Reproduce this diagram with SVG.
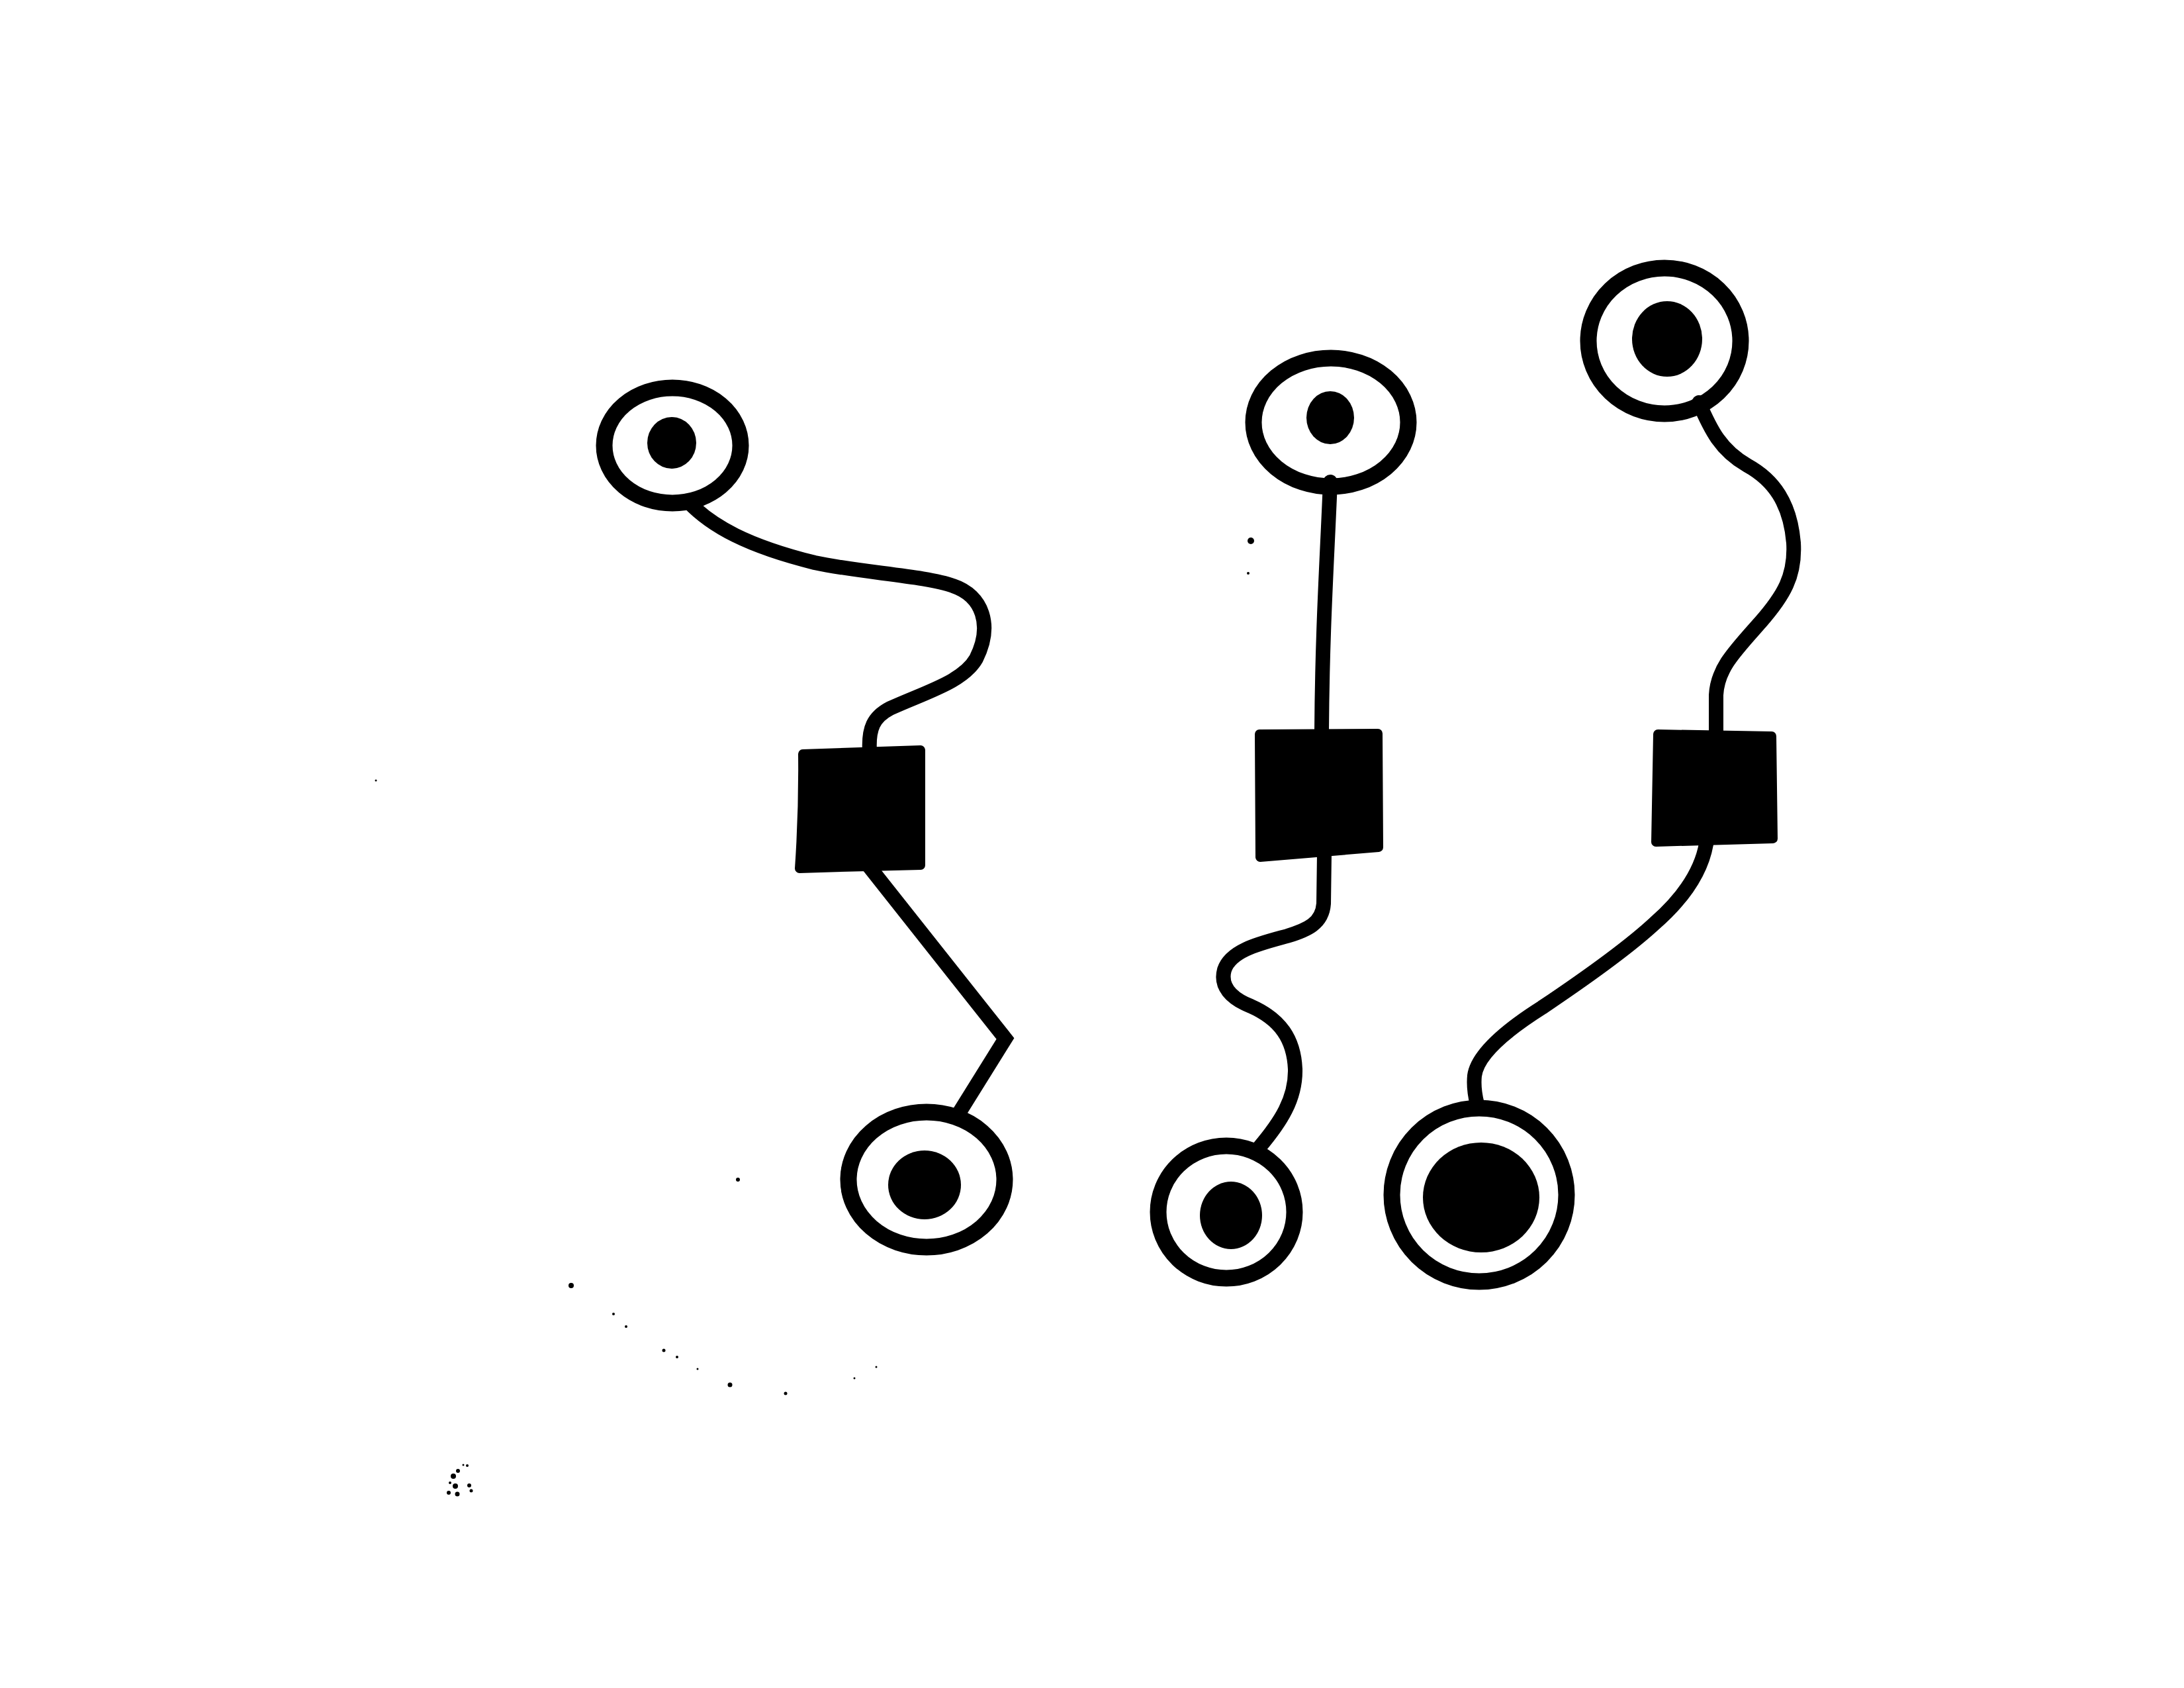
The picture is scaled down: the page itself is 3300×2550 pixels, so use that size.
<svg xmlns="http://www.w3.org/2000/svg" width="3300" height="2550" viewBox="0 0 3300 2550">
<style>
.ring{fill:none;stroke:#000;stroke-width:25}
.dot{fill:#000}
.sq{fill:#000;stroke:#000;stroke-width:14;stroke-linejoin:round}
.wire{fill:none;stroke:#000;stroke-width:22;stroke-linecap:round;stroke-linejoin:round}
.speck{fill:#000}
</style>
<rect width="3300" height="2550" fill="#fff"/>
<g id="connectors">
<path class="wire" d="M1040,758 C1075,795 1130,825 1231,850 C1300,865 1400,870 1440,885 C1485,900 1500,945 1475,995 C1455,1030 1400,1045 1345,1070 C1320,1083 1312,1100 1314,1135"/>
<path class="wire" style="stroke-linejoin:miter" d="M1310,1305 L1519,1569 L1448,1683"/>
<path class="wire" d="M2010,728 C2005,850 1998,950 1997,1104"/>
<path class="wire" d="M2001,1290 L2000,1365 C1998,1395 1975,1405 1945,1414 C1905,1425 1860,1435 1850,1465 C1843,1490 1860,1508 1890,1520 C1935,1540 1955,1570 1957,1615 C1958,1660 1935,1695 1903,1733"/>
<path class="wire" d="M2567,608 C2585,650 2600,680 2640,703 C2680,725 2705,760 2710,820 C2713,870 2695,900 2660,940 C2620,985 2595,1010 2593,1050 L2593,1105"/>
<path class="wire" d="M2578,1275 C2570,1320 2540,1360 2500,1395 C2460,1432 2400,1475 2330,1522 C2270,1560 2232,1595 2228,1625 C2226,1645 2230,1660 2232,1668"/>
</g>
<g id="node-ring1">
<ellipse class="ring" cx="1016" cy="673" rx="103" ry="87"/>
<ellipse class="dot" cx="1015" cy="669" rx="37" ry="39"/>
</g>
<g id="node-square1">
<path class="sq" d="M1213,1139 Q1300,1136 1391,1133 L1391,1307 Q1300,1309 1208,1312 Q1214,1225 1213,1139 Z"/>
</g>
<g id="node-ring2">
<ellipse class="ring" cx="1400" cy="1782" rx="118" ry="102"/>
<ellipse class="dot" cx="1397" cy="1790" rx="55" ry="52"/>
</g>
<g id="node-ring3">
<ellipse class="ring" cx="2011" cy="638" rx="117" ry="97"/>
<ellipse class="dot" cx="2010" cy="631" rx="36" ry="40"/>
</g>
<g id="node-square2">
<path class="sq" d="M1903,1109 L2082,1108 L2083,1280 L1904,1295 Z"/>
</g>
<g id="node-ring4">
<ellipse class="ring" cx="1853" cy="1831" rx="103" ry="100"/>
<ellipse class="dot" cx="1860" cy="1836" rx="47" ry="51"/>
</g>
<g id="node-ring5">
<ellipse class="ring" cx="2515" cy="515" rx="115" ry="110"/>
<ellipse class="dot" cx="2519" cy="512" rx="53" ry="57"/>
</g>
<g id="node-square3">
<path class="sq" d="M2505,1109 L2677,1112 L2679,1267 L2502,1272 Z"/>
</g>
<g id="node-ring6">
<ellipse class="ring" cx="2235" cy="1805" rx="132" ry="131"/>
<ellipse class="dot" cx="2238" cy="1809" rx="88" ry="83"/>
</g>
<g id="specks">
<circle class="speck" cx="1890" cy="817" r="5"/>
<circle class="speck" cx="1886" cy="866" r="2"/>
<circle class="speck" cx="1115" cy="1782" r="3"/>
<circle class="speck" cx="568" cy="1179" r="1.5"/>
<circle class="speck" cx="863" cy="1942" r="4"/>
<circle class="speck" cx="927" cy="1985" r="2"/>
<circle class="speck" cx="946" cy="2004" r="2"/>
<circle class="speck" cx="1003" cy="2040" r="2.5"/>
<circle class="speck" cx="1023" cy="2050" r="2"/>
<circle class="speck" cx="1054" cy="2068" r="1.5"/>
<circle class="speck" cx="1103" cy="2092" r="3.5"/>
<circle class="speck" cx="1187" cy="2105" r="2.5"/>
<circle class="speck" cx="1291" cy="2082" r="1.5"/>
<circle class="speck" cx="1324" cy="2065" r="1.5"/>
<circle class="speck" cx="685" cy="2230" r="4"/>
<circle class="speck" cx="692" cy="2222" r="3"/>
<circle class="speck" cx="688" cy="2245" r="4"/>
<circle class="speck" cx="678" cy="2255" r="3"/>
<circle class="speck" cx="691" cy="2257" r="3.5"/>
<circle class="speck" cx="709" cy="2244" r="3"/>
<circle class="speck" cx="712" cy="2252" r="2.5"/>
<circle class="speck" cx="706" cy="2214" r="2"/>
<circle class="speck" cx="700" cy="2213" r="1.5"/>
<circle class="speck" cx="680" cy="2240" r="2"/>
</g>
</svg>
